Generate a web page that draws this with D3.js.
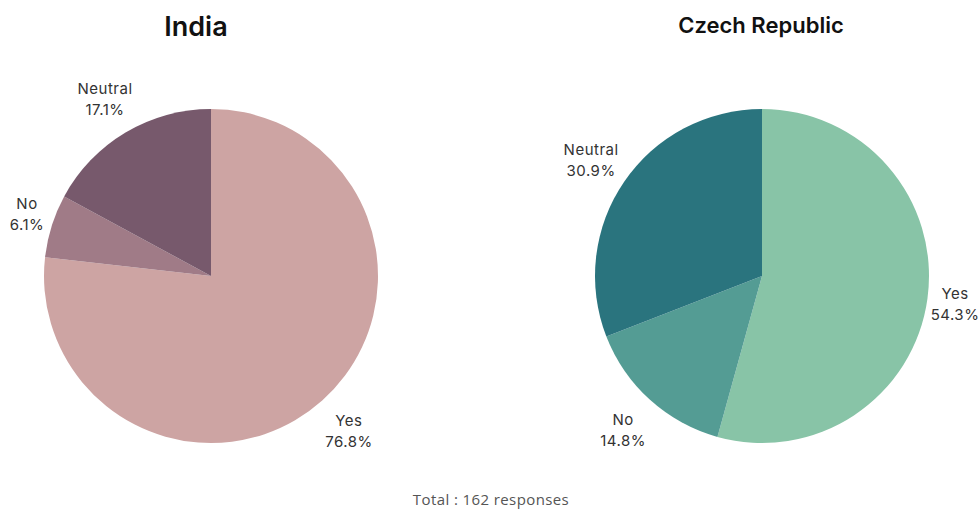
<!DOCTYPE html>
<html>
<head>
<meta charset="utf-8">
<script src="https://cdn.jsdelivr.net/npm/d3@7"></script>
<style>
  body { margin: 0; background: #fff; }
  svg { display: block; }
</style>
</head>
<body>
<svg width="980" height="510"></svg>
<script>
// two pie charts: India vs Czech Republic

var categories = ["Yes", "No", "Neutral"];
var indiaValues = [76.8, 6.1, 17.1];
var czechValues = [54.3, 14.8, 30.9];
var indiaColors = ["#cda4a3", "#a07b87", "#77596c"];
var czechColors = ["#88c4a7", "#549c94", "#2a747e"];
var totalLabel = "Total : 162 responses";

var svg = d3.select("svg"),
    width = +svg.attr("width"),
    height = +svg.attr("height"),
    radius = 167;

var pie = d3.pie().sort(null).value(function(d) { return d.value; });
var arc = d3.arc().innerRadius(0).outerRadius(radius);
var labelArc = d3.arc().innerRadius(radius * 1.24).outerRadius(radius * 1.24);

var drawPie = function(values, colors, cx, title, titleX, titleSize, titleY) {
    var data = categories.map(function(c, i) { return { name: c, value: values[i] }; });

    svg.append("text")
       .attr("x", titleX)
       .attr("y", titleY)
       .attr("text-anchor", "middle")
       .attr("font-family", "Inter, Lato, sans-serif")
       .attr("font-weight", 600)
       .attr("font-size", titleSize)
       .attr("fill", "#111")
       .text(title);

    var g = svg.append("g")
               .attr("transform", "translate(" + cx + "," + 276 + ")");

    g.selectAll("path")
     .data(pie(data))
     .enter().append("path")
     .attr("d", arc)
     .attr("fill", function(d, i) { return colors[i]; });

    var labels = g.selectAll("text.lbl")
                  .data(pie(data))
                  .enter().append("text")
                  .attr("class", "lbl")
                  .attr("text-anchor", "middle")
                  .attr("font-family", "Inter, Lato, sans-serif")
                  .attr("font-size", 15)
                  .attr("letter-spacing", 0.5)
                  .attr("fill", "#333")
                  .attr("transform", function(d) {
                      var p = labelArc.centroid(d);
                      // keep labels inside the window
                      var maxX = width - 25 - cx;
                      var minX = 27 - cx;
                      p[0] = Math.max(minX, Math.min(maxX, p[0]));
                      return "translate(" + p[0] + "," + p[1] + ")";
                  });

    labels.append("tspan")
          .attr("x", 0)
          .attr("dy", "-0.3em")
          .text(function(d) { return d.data.name; });

    labels.append("tspan")
          .attr("x", 0)
          .attr("dy", "1.4em")
          .text(function(d) { return d.data.value.toFixed(1) + "%"; });
};

drawPie(indiaValues, indiaColors, 211, "India", 196, 27, 36);
drawPie(czechValues, czechColors, 762, "Czech Republic", 761, 22, 33);

svg.append("text")
   .attr("x", 491)
   .attr("y", 505)
   .attr("text-anchor", "middle")
   .attr("font-family", "'Open Sans', 'Noto Sans', sans-serif")
   .attr("font-size", 15)
   .attr("letter-spacing", 0.4)
   .attr("fill", "#555")
   .text(totalLabel);
</script>
</body>
</html>
